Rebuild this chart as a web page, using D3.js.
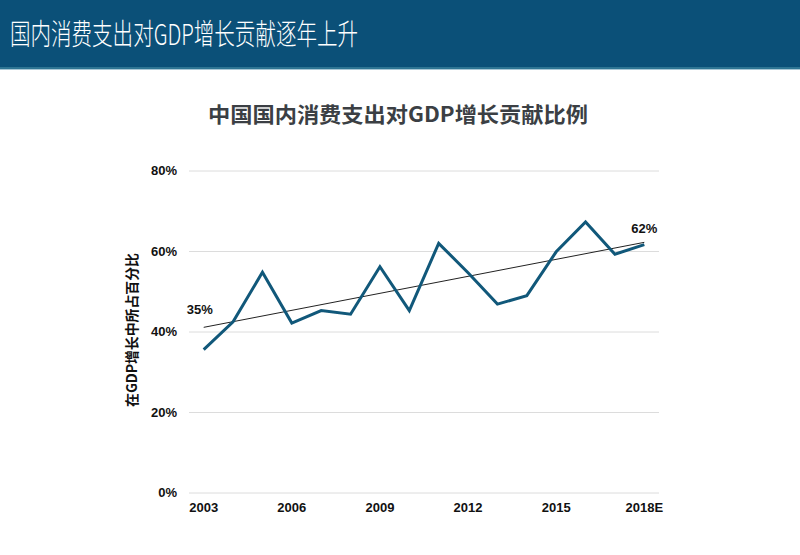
<!DOCTYPE html>
<html><head><meta charset="utf-8">
<script src="https://cdn.jsdelivr.net/npm/d3@7"></script>
<style>body{margin:0;background:#fff;} svg{display:block;}</style>
</head><body>
<svg id="c" width="800" height="555"></svg>
<script>
const years = ["2003","2004","2005","2006","2007","2008","2009","2010","2011","2012","2013","2014","2015","2016","2017","2018E"];
const values = [35.5,42.4,54.7,42.1,45.2,44.3,56.1,45.2,61.9,54.6,46.8,48.9,59.8,67.2,59.2,61.6];
const tickYears = ["2003","2006","2009","2012","2015","2018E"];
const yTicks = [0,20,40,60,80];
const labels = [{year:"2003", text:"35%"},{year:"2018E", text:"62%"}];
const headerTitle = "国内消费支出对GDP增长贡献逐年上升";
const chartTitle = "中国国内消费支出对GDP增长贡献比例";
const yTitle = "在GDP增长中所占百分比";

const svg = d3.select("#c");
const font = "'Liberation Sans', Arial, 'Noto Sans CJK SC', sans-serif";

// header
svg.append("rect").attr("x",0).attr("y",0).attr("width",800).attr("height",68).attr("fill","#0b5078");
svg.append("rect").attr("x",0).attr("y",67).attr("width",800).attr("height",2).attr("fill","#2e7593");
svg.append("rect").attr("x",0).attr("y",69).attr("width",800).attr("height",1).attr("fill","#a9c8d6");
svg.append("text").attr("x",10).attr("y",45).attr("fill","#fff")
  .attr("font-family","'Noto Sans CJK SC', sans-serif").attr("font-size",29).attr("font-weight",300)
  .attr("textLength",348).attr("lengthAdjust","spacingAndGlyphs").text(headerTitle);

// chart title
svg.append("text").attr("x",398).attr("y",122).attr("text-anchor","middle")
  .attr("fill","#3b3f44").attr("font-weight","bold").attr("font-size",21)
  .attr("font-family","'Noto Sans CJK SC', sans-serif")
  .attr("textLength",380).attr("lengthAdjust","spacingAndGlyphs").text(chartTitle);

const x = d3.scaleBand().domain(years).range([189,659]);
const y = d3.scaleLinear().domain([0,80]).range([492.5,170.5]);
const cx = d => x(d) + x.bandwidth()/2;

// grid
const ya = svg.append("g").attr("transform","translate(189,0)")
  .call(d3.axisLeft(y).tickValues(yTicks).tickFormat(d=>d+"%").tickSize(-470).tickPadding(12));
ya.select(".domain").remove();
ya.selectAll(".tick line").attr("stroke","#dcdcdc").attr("stroke-width",1);
ya.selectAll(".tick text").attr("font-family",font).attr("font-size",13).attr("font-weight","bold").attr("fill","#111");

const xa = svg.append("g").attr("transform","translate(0,492.5)")
  .call(d3.axisBottom(x).tickValues(tickYears).tickSize(0).tickPadding(10));
xa.select(".domain").remove();
xa.selectAll(".tick text").attr("font-family",font).attr("font-size",13).attr("font-weight","bold").attr("fill","#111");

// y title
svg.append("text").attr("transform","translate(137,330) rotate(-90)").attr("text-anchor","middle")
  .attr("font-family","'Noto Sans CJK SC', sans-serif").attr("font-size",14).attr("font-weight","bold")
  .attr("fill","#111").attr("textLength",154).attr("lengthAdjust","spacingAndGlyphs").text(yTitle);

// trendline via least squares
const n = values.length, idx = d3.range(n);
const mx = d3.mean(idx), my = d3.mean(values);
const slope = d3.sum(idx, i => (i-mx)*(values[i]-my)) / d3.sum(idx, i => (i-mx)*(i-mx));
const icpt = my - slope*mx;
svg.append("line").attr("x1",cx(years[0])).attr("y1",y(icpt))
  .attr("x2",cx(years[n-1])).attr("y2",y(icpt+slope*(n-1)))
  .attr("stroke","#222").attr("stroke-width",1);

// series line
svg.append("path").datum(values)
  .attr("d", d3.line().x((d,i)=>cx(years[i])).y(d=>y(d)))
  .attr("fill","none").attr("stroke","#11587a").attr("stroke-width",3).attr("stroke-linejoin","miter");

// labels
labels.forEach(l => {
  const i = years.indexOf(l.year);
  const dy = l.year==="2003" ? -36 : -12;
  svg.append("text").attr("x",cx(l.year) - (l.year==="2003"?4:0)).attr("y",y(values[i])+dy)
    .attr("text-anchor","middle").attr("font-family",font).attr("font-size",13).attr("font-weight","bold")
    .attr("fill","#111").text(l.text);
});
</script>
</body></html>
